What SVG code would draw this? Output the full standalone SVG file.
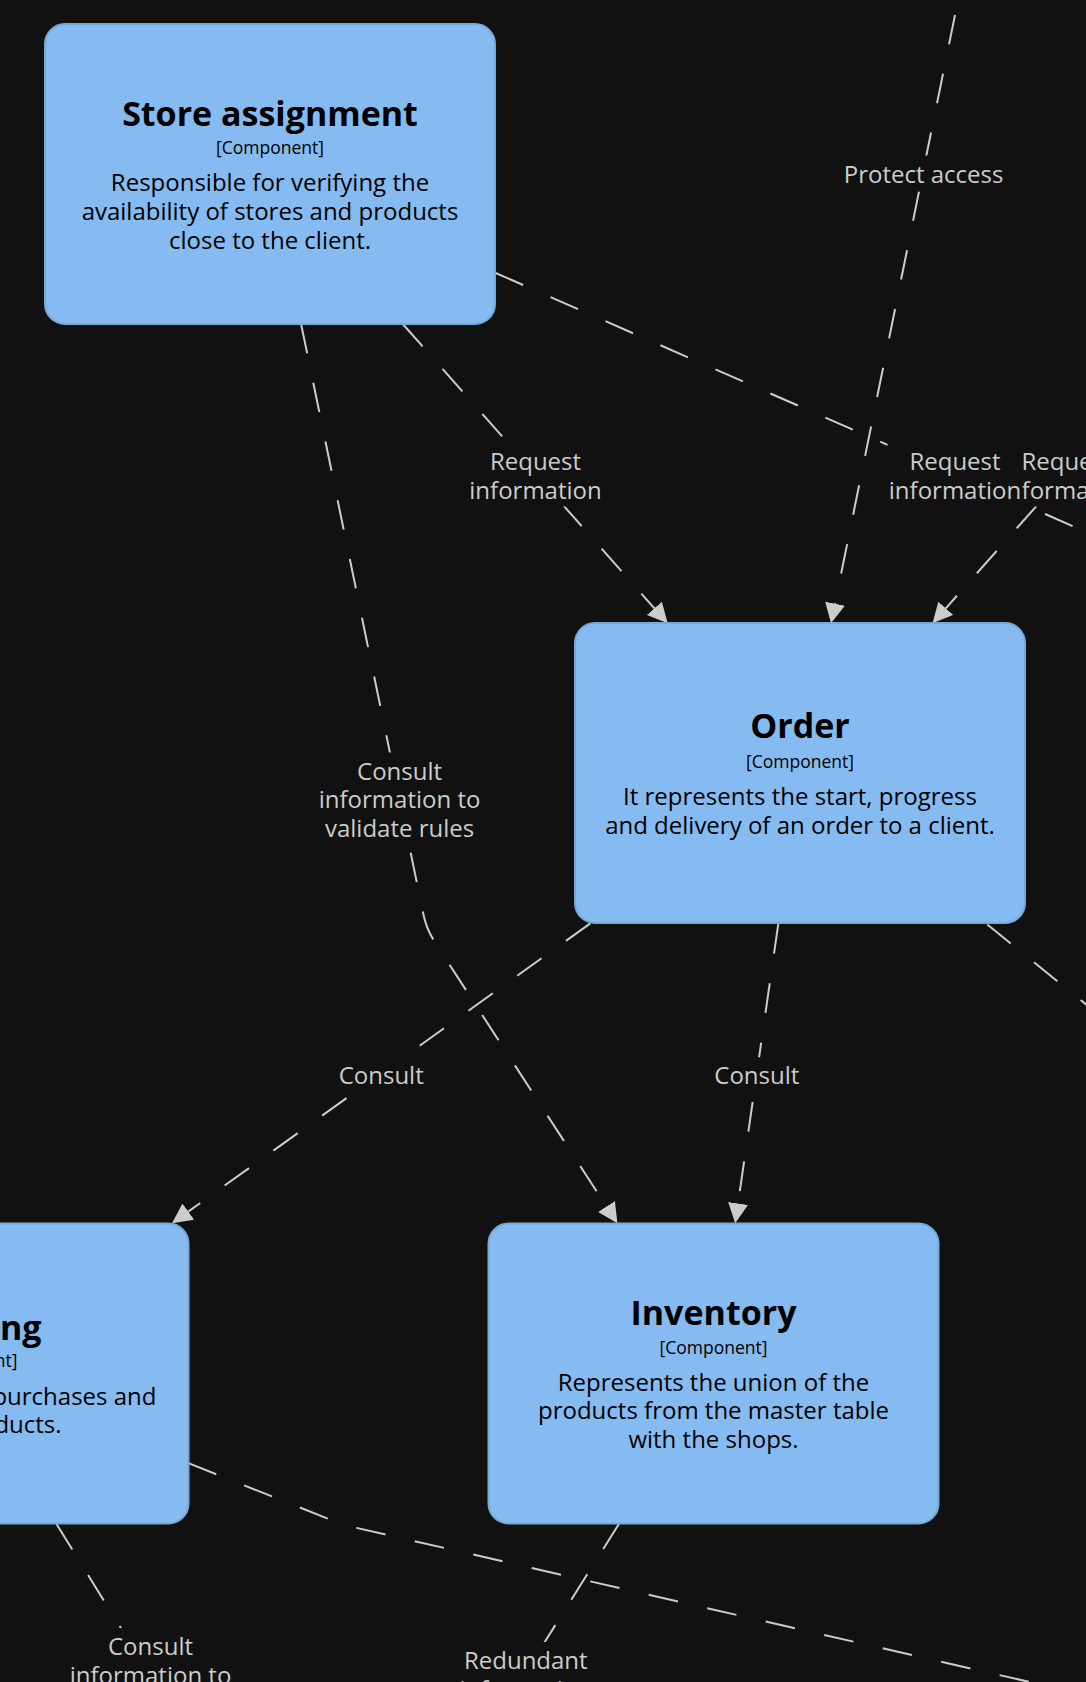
<svg xmlns="http://www.w3.org/2000/svg" width="1086" height="1682" viewBox="0 0 1086 1682">
<defs>
<style>
.bg{fill:#111111}
.node rect{fill:#85bbf0;stroke:#78a8d8;stroke-width:2}
.node text{font-family:"Open Sans","Liberation Sans",sans-serif;fill:#000000;text-anchor:middle}
.name{font-size:34px;font-weight:bold}
.meta{font-size:17.5px}
.desc{font-size:24px}
.edge{fill:none;stroke:#cccccc;stroke-width:2;stroke-dasharray:30 30}
.lbl rect{fill:#111111}
.lbl text{font-family:"Open Sans","Liberation Sans",sans-serif;font-size:24px;fill:#cccccc;text-anchor:middle}
</style>
<marker id="arrow" viewBox="0 -10 20 20" refX="0" refY="0" markerWidth="20" markerHeight="20" markerUnits="userSpaceOnUse" orient="auto">
<path d="M0,-10 L20,0 L0,10 z" fill="#cccccc"/>
</marker>
</defs>
<rect class="bg" x="0" y="0" width="1086" height="1682"/>

<g id="connectors">
<path class="edge" d="M967,-43.8 L835,603.7" marker-end="url(#arrow)"/>
<path class="edge" style="stroke-dashoffset:39.7" d="M270,174 L654.4,608.3" marker-end="url(#arrow)"/>
<path class="edge" style="stroke-dashoffset:53.6" d="M270,174 L1300,625.8"/>
<path class="edge" style="stroke-dashoffset:37.7" d="M1330,175 L945.8,608.3" marker-end="url(#arrow)"/>
<path class="edge" style="stroke-dashoffset:42" d="M800,773 L188.3,1211.6" marker-end="url(#arrow)"/>
<path class="edge" style="stroke-dashoffset:27.6" d="M800,773 L738.05,1203.5" marker-end="url(#arrow)"/>
<path class="edge" style="stroke-dashoffset:26.8" d="M270,174 L423.4,914.2 Q426.4,928.9 434.5,941.5 L606.5,1206.5" marker-end="url(#arrow)"/>
<path class="edge" style="stroke-dashoffset:3.1" d="M-36.5,1373.5 L227.1,1800"/>
<path class="edge" style="stroke-dashoffset:57.9" d="M-36.5,1373.5 L329.1,1519.2 Q343,1524.7 357.6,1528.1 L1200,1721"/>
<path class="edge" style="stroke-dashoffset:2.8" d="M713.5,1373.5 L445.4,1800"/>
<path class="edge" style="stroke-dashoffset:59" d="M800,773 L1200,1096.6"/>

<g class="lbl">
<rect x="843" y="155.5" width="161" height="36"/>
<text x="923.6" y="182.7">Protect access</text>
</g>
<g class="lbl">
<rect x="468" y="443" width="135" height="63.5"/>
<text x="535.5" y="470">Request</text>
<text x="535.5" y="498.5">information</text>
</g>
<g class="lbl">
<rect x="999.5" y="443" width="135" height="63.5"/>
<text x="1067" y="470">Request</text>
<text x="1067" y="498.5">information</text>
</g>
<g class="lbl">
<rect x="887.5" y="443" width="135" height="63.5"/>
<text x="955" y="470">Request</text>
<text x="955" y="498.5">information</text>
</g>
<g class="lbl">
<rect x="317.5" y="752.5" width="164" height="92.5"/>
<text x="399.6" y="779.5">Consult</text>
<text x="399.6" y="808.3">information to</text>
<text x="399.6" y="837">validate rules</text>
</g>
<g class="lbl">
<rect x="337.5" y="1057.3" width="87.5" height="35"/>
<text x="381.2" y="1084.3">Consult</text>
</g>
<g class="lbl">
<rect x="713" y="1057.3" width="87.5" height="35"/>
<text x="756.8" y="1084.3">Consult</text>
</g>
<g class="lbl">
<rect x="68.5" y="1628" width="164" height="70"/>
<text x="150.5" y="1655">Consult</text>
<text x="150.5" y="1683.5">information to</text>
</g>
<g class="lbl">
<rect x="458" y="1642" width="136" height="70"/>
<text x="525.8" y="1669">Redundant</text>
<text x="525.8" y="1697.5">information</text>
</g>
</g>

<g id="node-store-assignment" class="node">
<rect x="45" y="24" width="450" height="300" rx="20" ry="20"/>
<text class="name" x="270" y="126">Store assignment</text>
<text class="meta" x="270" y="153.5">[Component]</text>
<text class="desc" x="270" y="191">Responsible for verifying the</text>
<text class="desc" x="270" y="219.5">availability of stores and products</text>
<text class="desc" x="270" y="248.5">close to the client.</text>
</g>

<g id="node-order" class="node">
<rect x="575" y="623" width="450" height="300" rx="20" ry="20"/>
<text class="name" x="800" y="738.3">Order</text>
<text class="meta" x="800" y="767.7">[Component]</text>
<text class="desc" x="800" y="805">It represents the start, progress</text>
<text class="desc" x="800" y="833.5">and delivery of an order to a client.</text>
</g>

<g id="node-inventory" class="node">
<rect x="488.5" y="1223.5" width="450" height="300" rx="20" ry="20"/>
<text class="name" x="713.5" y="1325">Inventory</text>
<text class="meta" x="713.5" y="1354">[Component]</text>
<text class="desc" x="713.5" y="1390.7">Represents the union of the</text>
<text class="desc" x="713.5" y="1419.3">products from the master table</text>
<text class="desc" x="713.5" y="1448.3">with the shops.</text>
</g>

<g id="node-left" class="node">
<rect x="-261.5" y="1223.5" width="450" height="300" rx="20" ry="20"/>
<text class="name" x="41.5" y="1340" style="text-anchor:end">ng</text>
<text class="meta" x="-36.5" y="1367.3">[Component]</text>
<text class="desc" x="156.5" y="1405" style="text-anchor:end">purchases and</text>
<text class="desc" x="61.6" y="1433.3" style="text-anchor:end">ducts.</text>
</g>
</svg>
